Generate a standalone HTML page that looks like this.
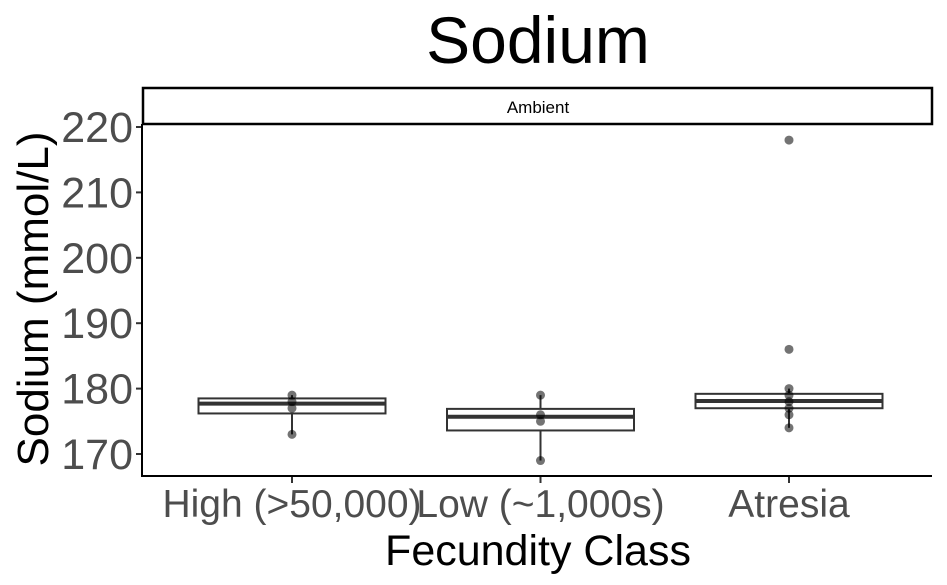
<!DOCTYPE html>
<html><head><meta charset="utf-8"><style>
body{margin:0;background:#fff;}
svg{display:block;font-family:"Liberation Sans",sans-serif;}
</style></head><body>
<svg id="chart" width="947" height="585">
<text x="538" y="63" font-size="66" text-anchor="middle">Sodium</text>
<rect x="143" y="88" width="789" height="36" fill="#fff" stroke="#000" stroke-width="2.5"/>
<text x="538" y="113" font-size="17" text-anchor="middle">Ambient</text>
<g id="yaxis"></g><g id="xaxis"></g><g id="marks"></g>
<line x1="142" y1="124" x2="142" y2="477" stroke="#000" stroke-width="2"/>
<line x1="141" y1="476" x2="932" y2="476" stroke="#000" stroke-width="2"/>
<text x="538" y="565" font-size="43" text-anchor="middle">Fecundity Class</text>
<text transform="translate(48,299) rotate(-90)" font-size="44" text-anchor="middle">Sodium (mmol/L)</text>
</svg>
<script>
const categories=["High (>50,000)","Low (~1,000s)","Atresia"];
const q1=[176.2,173.6,177.0];
const medians=[177.7,175.7,178.1];
const q3=[178.5,176.9,179.2];
const whiskLow=[173,169,174];
const whiskHigh=[179,179,180];
const points=[[179,178,177,173],[179,176,175,169],[218,186,180,179,178,177,176,174]];
const yTicks=[170,180,190,200,210,220];
const NS="http://www.w3.org/2000/svg";
const y=v=>454-(v-170)*6.54;
const x=i=>292+i*248.5;
const bw=187;
function mk(tag,attrs,parent){const e=document.createElementNS(NS,tag);for(const k in attrs)e.setAttribute(k,attrs[k]);parent.appendChild(e);return e;}
const ya=document.getElementById('yaxis'),xa=document.getElementById('xaxis'),m=document.getElementById('marks');
yTicks.forEach(t=>{
 const l=mk('line',{x1:136,x2:142,y1:y(t),y2:y(t),stroke:'#333','stroke-width':2},ya);
 
 
 const tx=mk('text',{x:133,y:y(t)+15,'font-size':43,'text-anchor':'end',fill:'#4d4d4d'},ya);
 tx.textContent=t;
 
 
});
categories.forEach((c,i)=>{
 const cx=x(i);
 const l=mk('line',{x1:cx,x2:cx,y1:476,y2:483,stroke:'#333','stroke-width':2},xa);
 
 
 const tx=mk('text',{x:cx,y:517,'font-size':39,'text-anchor':'middle',fill:'#4d4d4d'},xa);
 tx.textContent=c;
 
 
 const g=mk('g',{},m);
 
 
 const w1=mk('line',{x1:cx,x2:cx,y1:y(whiskHigh[i]),y2:y(q3[i]),stroke:'#333','stroke-width':2},g);
 
 
 const w2=mk('line',{x1:cx,x2:cx,y1:y(q1[i]),y2:y(whiskLow[i]),stroke:'#333','stroke-width':2},g);
 
 
 const r=mk('rect',{x:cx-bw/2,y:y(q3[i]),width:bw,height:y(q1[i])-y(q3[i]),fill:'#fff',stroke:'#333','stroke-width':2},g);
 
 
 const md=mk('line',{x1:cx-bw/2,x2:cx+bw/2,y1:y(medians[i]),y2:y(medians[i]),stroke:'#333','stroke-width':4},g);
 
 
 points[i].forEach(p=>{
  const ci=mk('circle',{cx:cx,cy:y(p),r:4.5,fill:'#000','fill-opacity':0.55},g);
  
  
 });
});
</script>
</body></html>
